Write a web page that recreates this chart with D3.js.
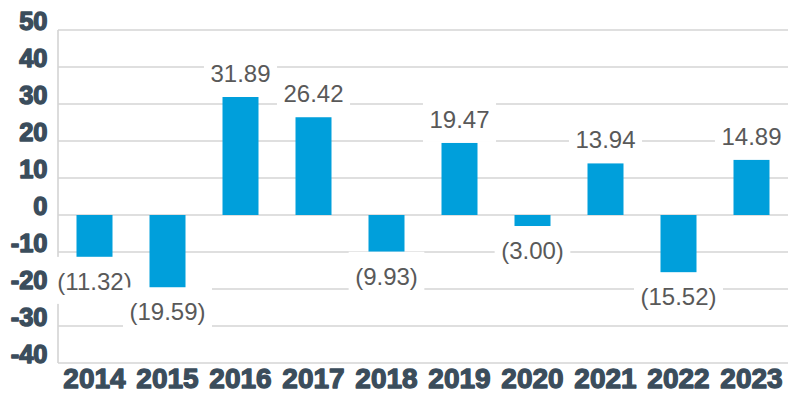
<!DOCTYPE html>
<html>
<head>
<meta charset="utf-8">
<script src="https://cdn.jsdelivr.net/npm/d3@7"></script>
<style>
  html, body { margin: 0; padding: 0; background: #fff; }
  svg { display: block; }
</style>
</head>
<body>
<svg id="chart" width="800" height="400"></svg>
<script>
const years = ["2014","2015","2016","2017","2018","2019","2020","2021","2022","2023"];
const values = [-11.32, -19.59, 31.89, 26.42, -9.93, 19.47, -3.00, 13.94, -15.52, 14.89];
const yTicks = [50, 40, 30, 20, 10, 0, -10, -20, -30, -40];

const svg = d3.select("#chart");
const margin = {left: 58, right: 12, top: 30, bottom: 37};
const W = 800, H = 400;

const x = d3.scaleBand().domain(years).range([margin.left, W - margin.right]).paddingInner(0.5068).paddingOuter(0.2534);
const y = d3.scaleLinear().domain([-40, 50]).range([H - margin.bottom, margin.top]);

const gridColor = "#d4d4d4";
const barColor = "#009FDB";
const labelColor = "#595959";
const axisColor = "#3b4d5c";

// gridlines
svg.append("g").selectAll("line").data(yTicks).join("line")
  .attr("x1", margin.left).attr("x2", W - margin.right)
  .attr("y1", d => y(d)).attr("y2", d => y(d))
  .attr("stroke", gridColor).attr("stroke-width", 1.6);

// left axis line
svg.append("line")
  .attr("x1", margin.left).attr("x2", margin.left)
  .attr("y1", y(50)).attr("y2", y(-40))
  .attr("stroke", gridColor).attr("stroke-width", 1.6);

// y tick labels
svg.append("g").selectAll("text").data(yTicks).join("text")
  .attr("x", 47.5).attr("y", d => y(d) - 0.5)
  .attr("text-anchor", "end")
  .attr("font-family", "'Liberation Sans Narrow', 'Liberation Sans', Arial, sans-serif")
  .attr("font-weight", "bold")
  .attr("font-size", 25.5)
  .attr("fill", axisColor).attr("stroke", axisColor).attr("stroke-width", 1.4)
  .attr("stroke-linejoin", "round")
  .text(d => d);

// x labels
svg.append("g").selectAll("text").data(years).join("text")
  .attr("x", d => x(d) + x.bandwidth() / 2).attr("y", 388)
  .attr("text-anchor", "middle")
  .attr("font-family", "'Liberation Sans Narrow', 'Liberation Sans', Arial, sans-serif")
  .attr("font-weight", "bold")
  .attr("font-size", 28)
  .attr("fill", axisColor).attr("stroke", axisColor).attr("stroke-width", 1.3)
  .attr("stroke-linejoin", "round")
  .text(d => d);

const data = years.map((yr, i) => ({year: yr, value: values[i]}));
const fmt = v => v < 0 ? "(" + d3.format(".2f")(-v) + ")" : d3.format(".2f")(v);

// labels with white boxes
const lg = svg.append("g");
const labels = lg.selectAll("g").data(data).join("g");
labels.each(function(d) {
  const g = d3.select(this);
  const cx = x(d.year) + x.bandwidth() / 2;
  const base = d.value >= 0 ? y(d.value) - 15 : y(d.value) + 33;
  const rect = g.append("rect").attr("fill", "#fff");
  const t = g.append("text")
    .attr("x", cx).attr("y", base)
    .attr("text-anchor", "middle")
    .attr("font-family", "'Liberation Sans', Arial, sans-serif")
    .attr("font-size", 24)
    .attr("fill", labelColor)
    .text(fmt(d.value));
  const w = t.node().getComputedTextLength();
  rect.attr("x", cx - w / 2 - 6.5).attr("width", w + 13)
    .attr("y", base - 33).attr("height", 47);
});

// bars
svg.append("g").selectAll("rect").data(data).join("rect")
  .attr("x", d => x(d.year)).attr("width", x.bandwidth())
  .attr("y", d => y(Math.max(0, d.value)))
  .attr("height", d => Math.abs(y(d.value) - y(0)))
  .attr("fill", barColor);

// bring label texts to front
lg.raise();
lg.selectAll("rect").lower();
</script>
</body>
</html>
